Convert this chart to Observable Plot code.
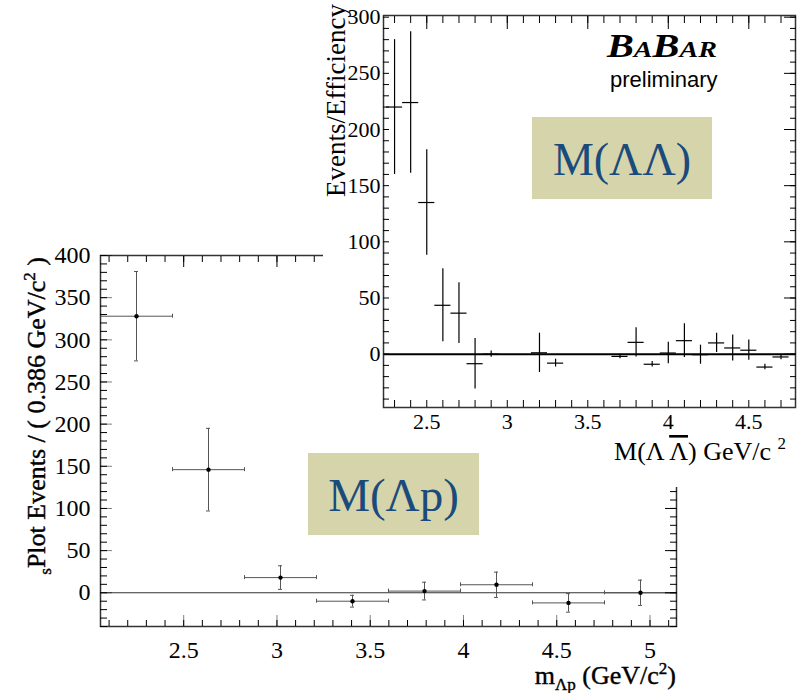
<!DOCTYPE html>
<html>
<head>
<meta charset="utf-8">
<script src="https://cdn.jsdelivr.net/npm/d3@7"></script>
<script src="https://cdn.jsdelivr.net/npm/@observablehq/plot@0.6"></script>
<style>
  html, body { margin: 0; padding: 0; background: #fff; }
  #figure { position: relative; width: 801px; height: 693px; overflow: hidden; background: #fff; }
</style>
</head>
<body>
<div id="figure"></div>
<script>
// Λp invariant mass: sPlot-weighted yields in bins of 0.386 GeV/c²
const lambdaPBinCenters = [2.247, 2.633, 3.019, 3.405, 3.791, 4.177, 4.563, 4.949];
const lambdaPEvents     = [328, 146, 18, -10, 2, 9.5, -12, 0];
const lambdaPErrors     = [53, 49, 14, 7, 10.5, 15, 11, 15];
const lambdaPHalfWidth  = 0.193;

// ΛΛ̄ invariant mass: efficiency-corrected yields in bins of 0.1 GeV/c²
const lambdaLambdaMass  = [2.3, 2.4, 2.5, 2.6, 2.7, 2.8, 2.9, 3.2, 3.3, 3.7, 3.8, 3.9, 4.0, 4.1, 4.2, 4.3, 4.4, 4.5, 4.6, 4.7];
const lambdaLambdaYield = [220, 224, 135, 43.5, 36.5, -8.5, 0, 1.2, -8, -2, 10.5, -9, 1, 12, -0.5, 10, 5.5, 3.5, -11.5, -2.5];
const lambdaLambdaError = [60, 63, 47, 32.5, 27, 22.5, 2.7, 17.5, 3.5, 2, 13, 2.5, 9.5, 15, 8.5, 8.5, 11.5, 9, 2.5, 2.5];
const lambdaLambdaHalfWidth = 0.05;

// Axis ticks
const lowerXMajor = [2.5, 3, 3.5, 4, 4.5, 5];
const lowerYMajor = [0, 50, 100, 150, 200, 250, 300, 350, 400];
const upperXMajor = [2.5, 3, 3.5, 4, 4.5];
const upperYMajor = [0, 50, 100, 150, 200, 250, 300];
const lowerXMinor = d3.range(21, 52).map(d => d / 10);
const lowerYMinor = d3.range(-40, 401, 10);
const upperXMinor = d3.range(23, 48).map(d => d / 10);
const upperYMinor = d3.range(-40, 301, 10);

const serif = "'Liberation Serif', 'Times New Roman', serif";
const sans = "'Liberation Sans', Arial, sans-serif";
const figure = document.getElementById("figure");
const blank = () => "";
const plain = d => String(d);

function place(el, left, top) {
  el.style.position = "absolute";
  el.style.left = left + "px";
  el.style.top = top + "px";
  figure.appendChild(el);
}

// ROOT-style frame: inward ticks on all four sides
function frameTicks(xMajor, xMinor, yMajor, yMinor, s) {
  const text = {tickFormat: plain, fontSize: s.font, fontFamily: serif, fill: "black", stroke: "black", strokeWidth: s.weight};
  return [
    Plot.axisX({ticks: xMajor, anchor: "bottom", tickSize: -s.xMajor, tickPadding: s.xPad, ...text}),
    Plot.axisX({ticks: xMinor, anchor: "bottom", tickSize: -s.xMinor, tickFormat: blank}),
    Plot.axisX({ticks: xMajor, anchor: "top", tickSize: -s.xMajor, tickFormat: blank}),
    Plot.axisX({ticks: xMinor, anchor: "top", tickSize: -s.xMinor, tickFormat: blank}),
    Plot.axisY({ticks: yMajor, anchor: "left", tickSize: -s.yMajor, tickPadding: s.yPad, ...text}),
    Plot.axisY({ticks: yMinor, anchor: "left", tickSize: -s.yMinor, tickFormat: blank}),
    Plot.axisY({ticks: yMajor, anchor: "right", tickSize: -s.yMajor, tickFormat: blank}),
    Plot.axisY({ticks: yMinor, anchor: "right", tickSize: -s.yMinor, tickFormat: blank})
  ];
}

// ---- Λp panel (lower left) ----
const lpRows = lambdaPBinCenters.map((m, i) => ({mass: m, value: lambdaPEvents[i], error: lambdaPErrors[i]}));
const barColor = "#555";
const lowerChart = Plot.plot({
  width: 700, height: 463,
  marginLeft: 100, marginRight: 24, marginTop: 25, marginBottom: 67,
  style: {fontFamily: serif, fontSize: "24px", color: "black", background: "transparent", overflow: "visible"},
  x: {domain: [2.054, 5.142], label: null},
  y: {domain: [-40, 400], label: null},
  marks: [
    Plot.ruleY([0], {stroke: "#333", strokeWidth: 1.2}),
    Plot.ruleX(lpRows, {x: "mass", y1: d => d.value - d.error, y2: d => d.value + d.error, stroke: barColor}),
    Plot.ruleY(lpRows, {y: "value", x1: d => d.mass - lambdaPHalfWidth, x2: d => d.mass + lambdaPHalfWidth, stroke: barColor}),
    Plot.ruleY(lpRows, {y: d => d.value + d.error, x1: "mass", x2: "mass", insetLeft: -2, insetRight: -2, stroke: barColor}),
    Plot.ruleY(lpRows, {y: d => d.value - d.error, x1: "mass", x2: "mass", insetLeft: -2, insetRight: -2, stroke: barColor}),
    Plot.ruleX(lpRows, {x: d => d.mass - lambdaPHalfWidth, y1: "value", y2: "value", insetTop: -2, insetBottom: -2, stroke: barColor}),
    Plot.ruleX(lpRows, {x: d => d.mass + lambdaPHalfWidth, y1: "value", y2: "value", insetTop: -2, insetBottom: -2, stroke: barColor}),
    Plot.dot(lpRows, {x: "mass", y: "value", r: 2.2, fill: "black"}),
    Plot.frame({stroke: "#333", strokeWidth: 1.5}),
    ...frameTicks(lowerXMajor, lowerXMinor, lowerYMajor, lowerYMinor,
      {xMajor: 11, xMinor: 6, yMajor: 12, yMinor: 7, xPad: 25, yPad: 22, font: 24, weight: 0.5})
  ]
});
place(lowerChart, 0, 230);

// ---- ΛΛ̄ panel (upper right) ----
const llRows = lambdaLambdaMass.map((m, i) => ({mass: m, value: lambdaLambdaYield[i], error: lambdaLambdaError[i]}));
const upperChart = Plot.plot({
  width: 478, height: 487,
  marginLeft: 60, marginRight: 6, marginTop: 15, marginBottom: 80,
  style: {fontFamily: serif, fontSize: "22px", color: "black", background: "white", overflow: "visible"},
  x: {domain: [2.2313, 4.79], label: null},
  y: {domain: [-47.5, 301.5], label: null},
  marks: [
    Plot.ruleY([0], {stroke: "black", strokeWidth: 2}),
    Plot.ruleX(llRows, {x: "mass", y1: d => d.value - d.error, y2: d => d.value + d.error, stroke: "black", strokeWidth: 1.2}),
    Plot.ruleY(llRows, {y: "value", x1: d => d.mass - lambdaLambdaHalfWidth, x2: d => d.mass + lambdaLambdaHalfWidth, stroke: "black", strokeWidth: 1.2}),
    Plot.frame({stroke: "#333", strokeWidth: 1.5}),
    ...frameTicks(upperXMajor, upperXMinor, upperYMajor, upperYMinor,
      {xMajor: 13, xMinor: 7, yMajor: 12, yMinor: 6, xPad: 19, yPad: 15, font: 22, weight: 0})
  ]
});
place(upperChart, 323, 0);

// ---- titles, logo and highlight boxes ----
const overlay = d3.create("svg")
  .attr("width", 801).attr("height", 693)
  .style("position", "absolute").style("left", "0px").style("top", "0px")
  .style("pointer-events", "none");
figure.appendChild(overlay.node());

// Events/Efficiency
overlay.append("text")
  .attr("transform", "translate(345,4) rotate(-90)")
  .attr("text-anchor", "end")
  .attr("font-family", serif).attr("font-size", 27)
  .text("Events/Efficiency");

// sPlot Events / ( 0.386 GeV/c² )
{
  const t = overlay.append("text")
    .attr("transform", "translate(45,257) rotate(-90)")
    .attr("text-anchor", "end")
    .attr("font-family", serif).attr("font-size", 26)
    .attr("stroke", "black").attr("stroke-width", 0.4);
  t.append("tspan").attr("font-size", 17).attr("dy", 6).text("s");
  t.append("tspan").attr("dy", -6).text("Plot Events / ( 0.386 GeV/c");
  t.append("tspan").attr("font-size", 17).attr("dy", -10).text("2");
  t.append("tspan").attr("dy", 10).text(" )");
}

// M(Λ Λ̄) GeV/c²
{
  const t = overlay.append("text")
    .attr("x", 786).attr("y", 460)
    .attr("text-anchor", "end")
    .attr("font-family", serif).attr("font-size", 26);
  t.append("tspan").text("M(Λ ");
  t.append("tspan").attr("text-decoration", "overline").style("text-decoration", "overline").text("Λ");
  t.append("tspan").text(") GeV/c ");
  t.append("tspan").attr("font-size", 17).attr("dy", -11).text("2");
}

// m_Λp (GeV/c²)
{
  const t = overlay.append("text")
    .attr("x", 676).attr("y", 684)
    .attr("text-anchor", "end")
    .attr("font-family", serif).attr("font-size", 26)
    .attr("stroke", "black").attr("stroke-width", 0.4);
  t.append("tspan").text("m");
  t.append("tspan").attr("font-size", 17).attr("dy", 6).text("Λp");
  t.append("tspan").attr("dy", -6).text(" (GeV/c");
  t.append("tspan").attr("font-size", 17).attr("dy", -10).text("2");
  t.append("tspan").attr("dy", 10).text(")");
}

// BaBar preliminary
{
  const t = overlay.append("text")
    .attr("x", 607).attr("y", 57)
    .attr("font-family", serif).attr("font-weight", "bold").attr("font-style", "italic")
    .attr("textLength", 110).attr("lengthAdjust", "spacingAndGlyphs");
  t.append("tspan").attr("font-size", 33).text("B");
  t.append("tspan").attr("font-size", 23).text("A");
  t.append("tspan").attr("font-size", 33).text("B");
  t.append("tspan").attr("font-size", 23).text("AR");
  overlay.append("text")
    .attr("x", 610).attr("y", 87)
    .attr("font-family", sans).attr("font-size", 22)
    .text("preliminary");
}

// Highlight boxes naming each spectrum
const boxFill = "#d5d4aa";
const boxText = "#1b4b7b";
[
  {x: 532, y: 117, w: 180, h: 82, size: 46, label: "M(ΛΛ)"},
  {x: 308, y: 453, w: 171, h: 82, size: 47, label: "M(Λp)"}
].forEach(b => {
  overlay.append("rect").attr("x", b.x).attr("y", b.y).attr("width", b.w).attr("height", b.h).attr("fill", boxFill);
  overlay.append("text")
    .attr("x", b.x + b.w / 2).attr("y", b.y + 58)
    .attr("text-anchor", "middle")
    .attr("font-family", serif).attr("font-size", b.size)
    .attr("fill", boxText)
    .text(b.label);
});
</script>
</body>
</html>
